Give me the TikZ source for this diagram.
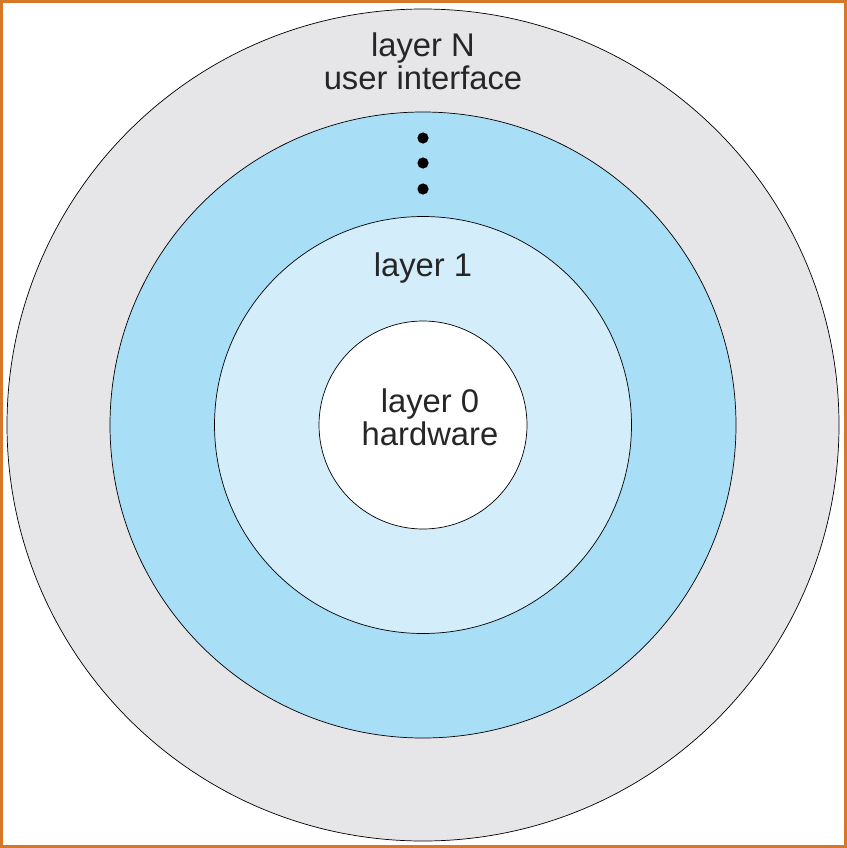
\documentclass[tikz,border=0pt]{standalone}
\usepackage{fontspec}
\setmainfont{Liberation Sans}
\definecolor{ringgray}{RGB}{230,230,232}
\definecolor{ringblue}{RGB}{168,222,246}
\definecolor{ringpale}{RGB}{212,237,250}
\definecolor{frameorange}{RGB}{214,120,40}
\begin{document}
\begin{tikzpicture}[x=0.025cm,y=-0.025cm]
\tikzstyle{ring}=[circle, draw=black, line width=0.5pt, inner sep=0pt]
\tikzstyle{label}=[font=\fontsize{23.3}{23.4}\selectfont, align=center, text=black!85]
\tikzstyle{dot}=[circle, fill=black, inner sep=0pt, minimum size=0.28cm]
\useasboundingbox (0,0) rectangle (847,848);
\fill[white] (0,0) rectangle (847,848);
\draw[frameorange, line width=1.5pt] (1.5,1.5) rectangle (845.5,846.5);
  \node[ring,fill=ringgray,minimum size=832*0.025cm] (LN) at (423,425) {};
  \node[ring,fill=ringblue,minimum size=626*0.025cm] (Lk) at (423,425) {};
  \node[ring,fill=ringpale,minimum size=417*0.025cm] (L1) at (423,425) {};
  \node[ring,fill=white,minimum size=208*0.025cm] (L0) at (423,425) {};
  \node[label] (tN) at (423,61) {layer N\\user interface};
  \node[label] (t1) at (423,268) {layer 1};
  \node[label] (t0) at (430,417) {layer 0\\hardware};
  \foreach \y/\n in {138/a,163/b,189/c}
    \node[dot] (d\n) at (423,\y) {};
\end{tikzpicture}
\end{document}
